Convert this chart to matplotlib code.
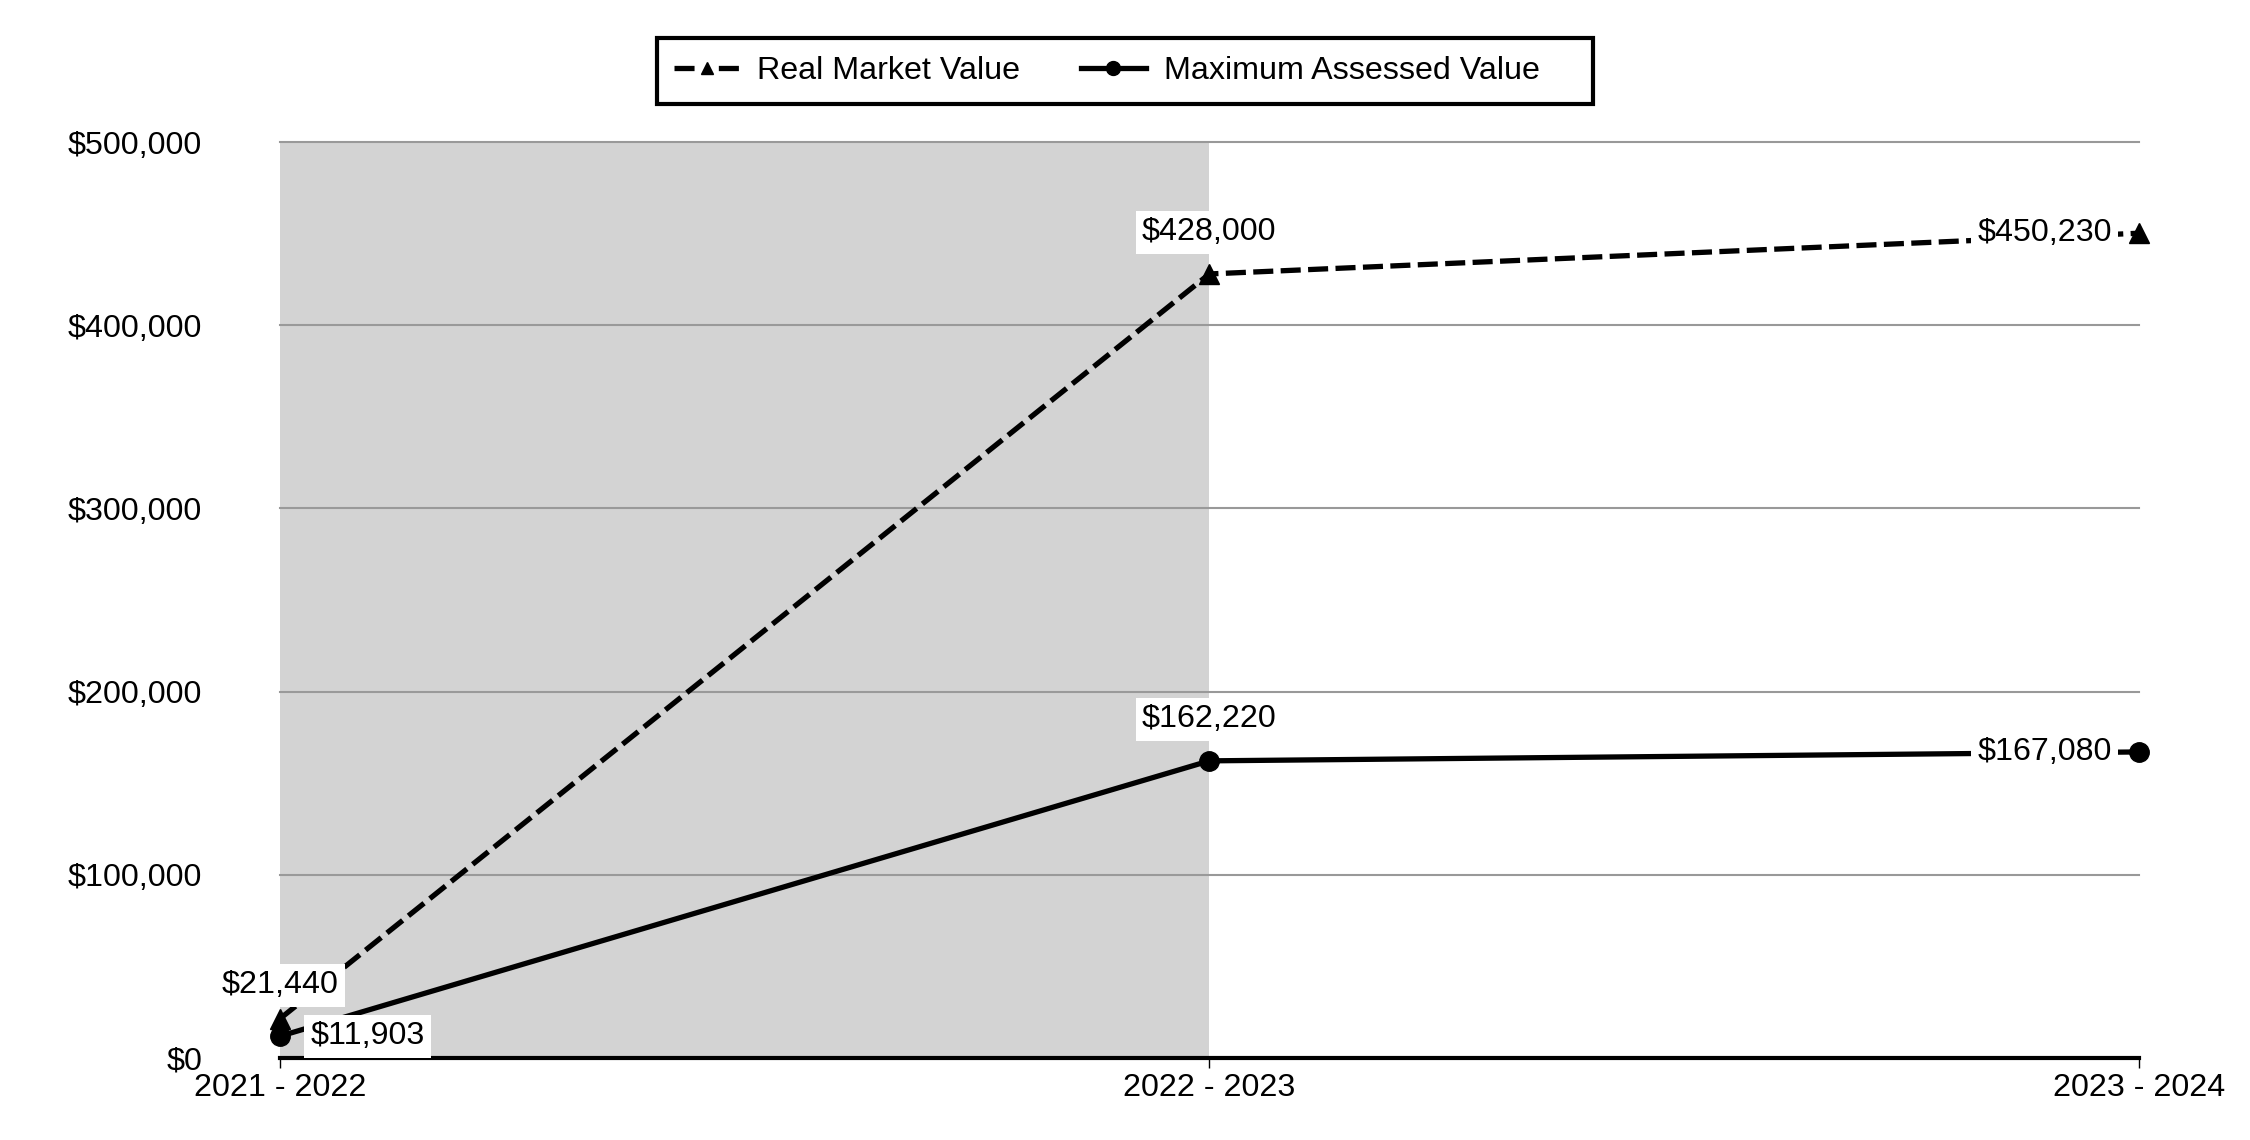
import matplotlib
matplotlib.use("Agg")
import matplotlib.pyplot as plt
from matplotlib.lines import Line2D

plt.rcParams['font.family'] = ['Liberation Sans', 'DejaVu Sans']

categories = ["2021 - 2022", "2022 - 2023", "2023 - 2024"]
real_market = [21440, 428000, 450230]
max_assessed = [11903, 162220, 167080]
rmv_labels = ["$21,440", "$428,000", "$450,230"]
mav_labels = ["$11,903", "$162,220", "$167,080"]
yticks = [0, 100000, 200000, 300000, 400000, 500000]
ytick_labels = ["$0", "$100,000", "$200,000", "$300,000", "$400,000", "$500,000"]
legend_labels = ["Real Market Value", "Maximum Assessed Value"]

FS = 23.2
fig = plt.figure(figsize=(22.5, 11.4), dpi=100)
ax = fig.add_axes([0.1244, 0.0719, 0.8262, 0.8035])

x = list(range(len(categories)))
ax.axvspan(0, 1, color="#d3d3d3", zorder=0, lw=0)
for yv in yticks[1:]:
    ax.axhline(yv, color="#999999", lw=1.5, zorder=1, clip_on=False)

ax.plot(x, real_market, color="black", lw=3.8, dashes=(3.8, 1.4),
        marker="^", markersize=14, zorder=3, clip_on=False)
ax.plot(x, max_assessed, color="black", lw=3.8, marker="o",
        markersize=14, zorder=3, clip_on=False)

bbox = dict(boxstyle="square,pad=0.2", fc="white", ec="none")
rmv_off = [(0, 24), (0, 30), (-68, 0)]
mav_off = [(63, 0), (0, 30), (-68, 0)]
for i in x:
    ax.annotate(rmv_labels[i], (x[i], real_market[i]), xytext=rmv_off[i],
                textcoords="offset points", ha="center", va="center",
                fontsize=FS, bbox=bbox, zorder=5)
    ax.annotate(mav_labels[i], (x[i], max_assessed[i]), xytext=mav_off[i],
                textcoords="offset points", ha="center", va="center",
                fontsize=FS, bbox=bbox, zorder=5)

ax.set_xlim(0, 2)
ax.set_ylim(0, 500000)
ax.set_xticks(x)
ax.set_xticklabels(categories, fontsize=FS)
ax.set_yticks(yticks)
ax.set_yticklabels(ytick_labels, fontsize=FS)
ax.tick_params(axis="y", length=0, pad=56)
ax.tick_params(axis="x", length=7.5, width=1.0, pad=3)
for s in ["top", "right", "left"]:
    ax.spines[s].set_visible(False)
ax.spines["bottom"].set_linewidth(3)
ax.spines["bottom"].set_zorder(4)

handles = [
    Line2D([], [], color="black", lw=3.8, dashes=(3.8, 4.6), marker="^", markersize=9),
    Line2D([], [], color="black", lw=3.8, marker="o", markersize=10),
]
leg = fig.legend(handles, [legend_labels[0], legend_labels[1] + "    "],
                 loc="center", bbox_to_anchor=(0.5, 0.9377), ncol=2,
                 fontsize=FS, frameon=True, fancybox=False, handlelength=2.0,
                 handletextpad=0.56, columnspacing=1.9, borderpad=0.55,
                 framealpha=1)
leg.get_frame().set_edgecolor("black")
leg.get_frame().set_linewidth(3)

fig.savefig("out.png", dpi=100)
